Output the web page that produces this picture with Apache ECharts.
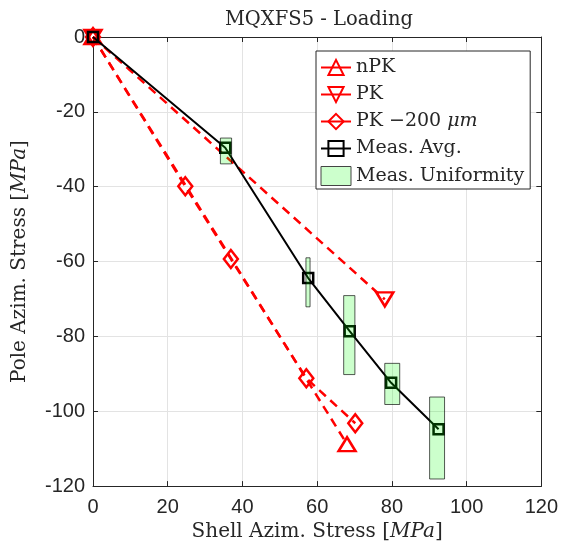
<!DOCTYPE html>
<html>
<head>
<meta charset="utf-8">
<script src="https://cdn.jsdelivr.net/npm/echarts@6/dist/echarts.min.js"></script>
<style>
html,body{margin:0;padding:0;background:#fff;}
#chart{width:561px;height:547px;}
</style>
</head>
<body>
<div id="chart"></div>
<script>
// ---- data ----
const xTicks = [0, 20, 40, 60, 80, 100, 120];
const yTicks = [-120, -100, -80, -60, -40, -20, 0];

const nPK_x = [0, 68.0];
const nPK_y = [0, -108.8];

const PK_x = [0, 78.1];
const PK_y = [0, -70.1];

const PK200_x = [0, 24.7, 36.9, 57.1, 70.2];
const PK200_y = [0, -39.9, -59.3, -91.2, -103.2];

const avg_x = [0, 35.4, 57.6, 68.7, 79.8, 92.5];
const avg_y = [0, -29.6, -64.4, -78.6, -92.4, -104.8];

const uni_xMin = [34.1, 57.0, 67.1, 78.1, 90.1];
const uni_xMax = [37.1, 58.1, 70.1, 82.1, 94.1];
const uni_yTop = [-27.0, -59.0, -69.1, -87.2, -96.2];
const uni_yBot = [-33.9, -72.1, -90.2, -98.2, -118.1];

const seriesNames = ['nPK', 'PK', 'PK \u2212200 \u03bcm', 'Meas. Avg.', 'Meas. Uniformity'];

// ---- build ----
const zip = (xs, ys) => xs.map((x, i) => [x, ys[i]]);
const uniData = uni_xMin.map((x, i) => [x, uni_xMax[i], uni_yTop[i], uni_yBot[i]]);

const serif = '"DejaVu Serif", "Liberation Serif", serif';
const sans = '"Liberation Sans", Arial, sans-serif';
const axisCol = '#262626';
const red = '#ff0000';

const chart = echarts.init(document.getElementById('chart'), null, {renderer: 'canvas'});

const gridPos = {left: 93, right: 17, top: 37, bottom: 60};

const baseAxis = {
  axisLine: {show: true, onZero: false, lineStyle: {color: axisCol, width: 1}},
  axisTick: {show: true, inside: true, length: 5, lineStyle: {color: axisCol, width: 1}},
  splitLine: {show: false},
};

const option = {
  backgroundColor: '#fff',
  animation: false,
  title: {
    text: 'MQXFS5 - Loading',
    left: 314, top: 5, textAlign: 'center',
    textStyle: {fontFamily: serif, fontSize: 19.5, fontWeight: 'normal', color: axisCol}
  },
  grid: Object.assign({show: false}, gridPos),
  legend: {
    orient: 'vertical',
    left: 316, top: 51,
    padding: [7, 6, 3, 4],
    itemGap: 8,
    itemWidth: 30, itemHeight: 19,
    backgroundColor: '#fff',
    borderColor: axisCol, borderWidth: 1, borderRadius: 0,
    lineStyle: {type: 'solid'},
    textStyle: {
      fontFamily: serif, fontSize: 19, color: axisCol,
      rich: {i: {fontFamily: serif, fontSize: 19, fontStyle: 'italic', color: axisCol}}
    },
    formatter: function (name) {
      if (name === seriesNames[2]) return 'PK \u2212200 {i|\u03bcm}';
      return name;
    },
    data: [
      {name: seriesNames[0]}, {name: seriesNames[1]}, {name: seriesNames[2]}, {name: seriesNames[3]},
      {name: seriesNames[4], icon: 'rect', itemStyle: {color: '#ccffcc', borderColor: '#444', borderWidth: 1}}
    ]
  },
  xAxis: [
    Object.assign({}, baseAxis, {
      type: 'value', min: 0, max: 120, interval: 20, position: 'bottom',
      name: 'Shell Azim. Stress [{i|MPa}]', nameLocation: 'middle', nameGap: 33,
      nameTextStyle: {fontFamily: serif, fontSize: 20, color: axisCol,
        rich: {i: {fontFamily: serif, fontSize: 20, fontStyle: 'italic', color: axisCol}}},
      axisLabel: {fontFamily: sans, fontSize: 20, color: axisCol, margin: 11},
      splitLine: {show: true, lineStyle: {color: '#e3e3e3', width: 1}}
    }),
    Object.assign({}, baseAxis, {
      type: 'value', min: 0, max: 120, interval: 20, position: 'top',
      axisLabel: {show: false}
    })
  ],
  yAxis: [
    Object.assign({}, baseAxis, {
      type: 'value', min: -120, max: 0, interval: 20, position: 'left',
      name: 'Pole Azim. Stress [{i|MPa}]', nameLocation: 'middle', nameGap: 63,
      nameTextStyle: {fontFamily: serif, fontSize: 20, color: axisCol,
        rich: {i: {fontFamily: serif, fontSize: 20, fontStyle: 'italic', color: axisCol}}},
      axisLabel: {fontFamily: sans, fontSize: 20, color: axisCol, margin: 8},
      splitLine: {show: true, lineStyle: {color: '#e3e3e3', width: 1}}
    }),
    Object.assign({}, baseAxis, {
      type: 'value', min: -120, max: 0, interval: 20, position: 'right',
      axisLabel: {show: false}
    })
  ],
  series: [
    {
      name: seriesNames[0], type: 'line', data: zip(nPK_x, nPK_y),
      symbol: 'triangle', symbolSize: [17, 14],
      lineStyle: {color: red, width: 2.5, type: [9, 6]},
      itemStyle: {color: 'rgba(255,255,255,0)', borderColor: red, borderWidth: 2.5},
      z: 2
    },
    {
      name: seriesNames[1], type: 'line', data: zip(PK_x, PK_y),
      symbol: 'triangle', symbolRotate: 180, symbolSize: [17, 14],
      lineStyle: {color: red, width: 2.5, type: [9, 6]},
      itemStyle: {color: 'rgba(255,255,255,0)', borderColor: red, borderWidth: 2.5},
      z: 2
    },
    {
      name: seriesNames[2], type: 'line', data: zip(PK200_x, PK200_y),
      symbol: 'diamond', symbolSize: [14, 18],
      lineStyle: {color: red, width: 2.5, type: [9, 6]},
      itemStyle: {color: 'rgba(255,255,255,0)', borderColor: red, borderWidth: 2.5},
      z: 2
    },
    {
      name: seriesNames[3], type: 'line', data: zip(avg_x, avg_y),
      symbol: 'rect', symbolSize: 10,
      lineStyle: {color: '#000', width: 2},
      itemStyle: {color: 'rgba(255,255,255,0)', borderColor: '#000', borderWidth: 2.5},
      z: 3
    },
    {
      name: seriesNames[4], type: 'custom',
      data: uniData,
      encode: {x: [0, 1], y: [2, 3]},
      itemStyle: {color: '#ccffcc', borderColor: '#444', borderWidth: 1},
      z: 4,
      renderItem: function (params, api) {
        const p0 = api.coord([api.value(0), api.value(2)]);
        const p1 = api.coord([api.value(1), api.value(3)]);
        return {
          type: 'rect',
          shape: {
            x: Math.min(p0[0], p1[0]), y: Math.min(p0[1], p1[1]),
            width: Math.abs(p1[0] - p0[0]), height: Math.abs(p1[1] - p0[1])
          },
          style: {fill: 'rgba(0,255,0,0.2)', stroke: 'rgba(0,0,0,0.65)', lineWidth: 1}
        };
      }
    }
  ]
};
chart.setOption(option);
</script>
</body>
</html>
